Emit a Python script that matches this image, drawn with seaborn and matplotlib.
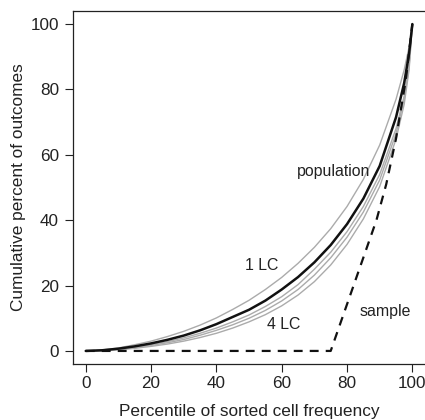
import matplotlib
matplotlib.use("Agg")
import matplotlib.pyplot as plt
import seaborn as sns
import pandas as pd

sns.set_style("ticks")
plt.rcParams['font.family'] = ['Liberation Sans', 'DejaVu Sans']

pct = [0, 5, 10, 15, 20, 25, 30, 35, 40, 45, 50, 55, 60, 65, 70, 75, 80, 85, 90, 95, 97.5, 99, 100]

population = [0, 0.2, 0.7, 1.4, 2.3, 3.4, 4.7, 6.3, 8.2, 10.4, 12.6, 15.4, 18.8, 22.6, 27.1,
              32.4, 38.8, 46.6, 56.6, 71.5, 82.0, 91.0, 100]
lc1 = [0, 0.3, 0.9, 1.9, 3.0, 4.4, 6.0, 7.9, 10.1, 12.7, 15.5, 18.8, 22.5, 26.8, 31.7,
       37.4, 44.2, 52.5, 63.0, 77.0, 86.0, 93.0, 100]
lc2 = [0, 0.15, 0.55, 1.15, 1.9, 2.85, 4.0, 5.4, 7.0, 8.9, 11.0, 13.6, 16.6, 20.3, 25.0,
       30.2, 36.5, 44.2, 54.0, 68.0, 78.0, 88.0, 100]
lc3 = [0, 0.12, 0.45, 1.0, 1.7, 2.5, 3.5, 4.8, 6.3, 8.0, 10.0, 12.4, 15.3, 18.8, 23.2,
       28.5, 34.8, 42.5, 52.3, 66.5, 77.0, 87.0, 100]
lc4 = [0, 0.1, 0.35, 0.8, 1.4, 2.1, 3.0, 4.1, 5.4, 7.0, 8.9, 11.1, 13.8, 17.1, 21.2,
       26.3, 32.6, 40.4, 50.3, 64.8, 75.5, 86.0, 100]

sample_x = [0, 75, 89, 92, 95, 98, 100]
sample_y = [0, 0, 40, 51, 65, 83, 100]

fig = plt.figure(figsize=(4.25, 4.2), dpi=100)
ax = fig.add_axes([0.171, 0.1333, 0.83, 0.8405])

for series in [lc1, lc2, lc3, lc4]:
    df = pd.DataFrame({"x": pct, "y": series})
    sns.lineplot(data=df, x="x", y="y", ax=ax, color="#ababab", linewidth=1.0, sort=False)

df_s = pd.DataFrame({"x": sample_x, "y": sample_y})
sns.lineplot(data=df_s, x="x", y="y", ax=ax, color="#111111", linewidth=1.6,
             linestyle=(0, (4, 3.2)), sort=False)

df_p = pd.DataFrame({"x": pct, "y": population})
sns.lineplot(data=df_p, x="x", y="y", ax=ax, color="#111111", linewidth=1.8, sort=False)

ax.set_xlim(-4, 104)
ax.set_ylim(-4, 104)
ticks = [0, 20, 40, 60, 80, 100]
ax.set_xticks(ticks)
ax.set_yticks(ticks)
ax.set_xticklabels([str(t) for t in ticks])
ax.set_yticklabels([str(t) for t in ticks])
ax.tick_params(axis='both', direction='out', length=5.8, width=0.8, color='#222222',
               labelsize=12.3, labelcolor='#222222')
ax.tick_params(axis='x', pad=3.0)
ax.tick_params(axis='y', pad=4.0)
for side in ['left', 'bottom', 'top']:
    ax.spines[side].set_visible(True)
    ax.spines[side].set_color('#222222')
    ax.spines[side].set_linewidth(0.9)
ax.spines['right'].set_visible(False)

ax.set_xlabel("Percentile of sorted cell frequency", fontsize=12.4, color='#222222', labelpad=9)
ax.set_ylabel("Cumulative percent of outcomes", fontsize=12.4, color='#222222', labelpad=3)

txt = dict(fontsize=11.4, color='#222222', ha='center', va='center')
ax.text(76, 55, "population", **txt)
ax.text(54, 26, "1 LC", **txt)
ax.text(60.7, 8, "4 LC", **txt)
ax.text(91.8, 12, "sample", **txt)

fig.savefig("out.png", dpi=100)
